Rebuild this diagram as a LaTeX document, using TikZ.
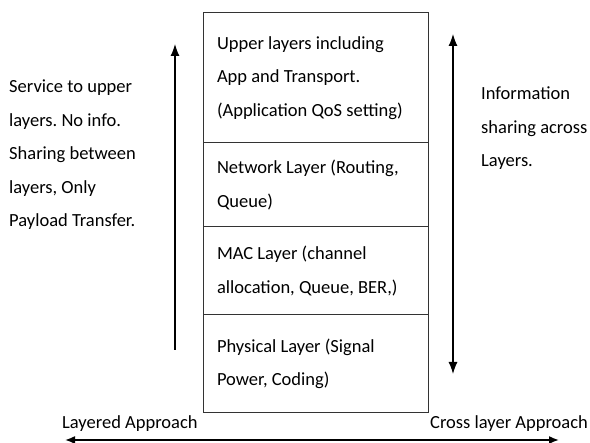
\documentclass[tikz,border=0pt]{standalone}
\usepackage{fontspec}
\setmainfont{Carlito}
\usepackage{tikz}
\usetikzlibrary{arrows.meta,positioning}
\frenchspacing

\tikzset{
  layer/.style = {draw=black!80, line width=1pt, outer sep=0pt, inner xsep=14pt,
                  minimum width=225pt, text width=197pt, align=flush left},
  note/.style  = {align=left, inner sep=0pt, anchor=base west},
}

\begin{document}
\begin{tikzpicture}[x=1pt, y=1pt, font=\fontsize{18.5}{33.5}\selectfont]
        \useasboundingbox (0,0) rectangle (590,443);
        \node[layer, anchor=north west, minimum height=130pt] (upper) at (203, 430.3) {Upper layers including\\App and Transport.\\(Application QoS setting)};
        \node[layer, below=0pt of upper, minimum height=84.3pt] (network) {Network Layer (Routing,\\Queue)};
        \node[layer, below=0pt of network, minimum height=88pt] (mac) {MAC Layer (channel\\allocation, Queue, BER,)};
        \node[layer, below=0pt of mac, minimum height=98pt] (physical) {Physical Layer (Signal\\Power, Coding)};
        % base of a multi-line note is its last line
        \node[note] (service) at (9, 216) {Service to upper\\layers. No info.\\Sharing between\\layers, Only\\Payload Transfer.};
        \node[note] (sharing) at (481, 276) {Information\\sharing across\\Layers.};
        \node[note] (layered) at (62, 14) {Layered Approach};
        \node[note] (cross) at (430, 14) {Cross layer Approach};
        \coordinate (up bottom) at (175, 93);
        \coordinate (up top) at (175, 399);
        \coordinate (info top) at (453, 409);
        \coordinate (info bottom) at (453, 69);
        \coordinate (axis left) at (65, 3);
        \coordinate (axis right) at (559, 3);
        \draw[line width=1.2pt, -{Latex[length=12pt, width=9pt]}] (up bottom) -- (up top);
        \draw[line width=1.2pt, {Latex[length=12pt, width=9pt]}-{Latex[length=12pt, width=9pt]}] (info top) -- (info bottom);
        \draw[line width=1.6pt, {Latex[length=10pt, width=8pt]}-{Latex[length=10pt, width=8pt]}] (axis left) -- (axis right);
    \end{tikzpicture}
\end{document}
